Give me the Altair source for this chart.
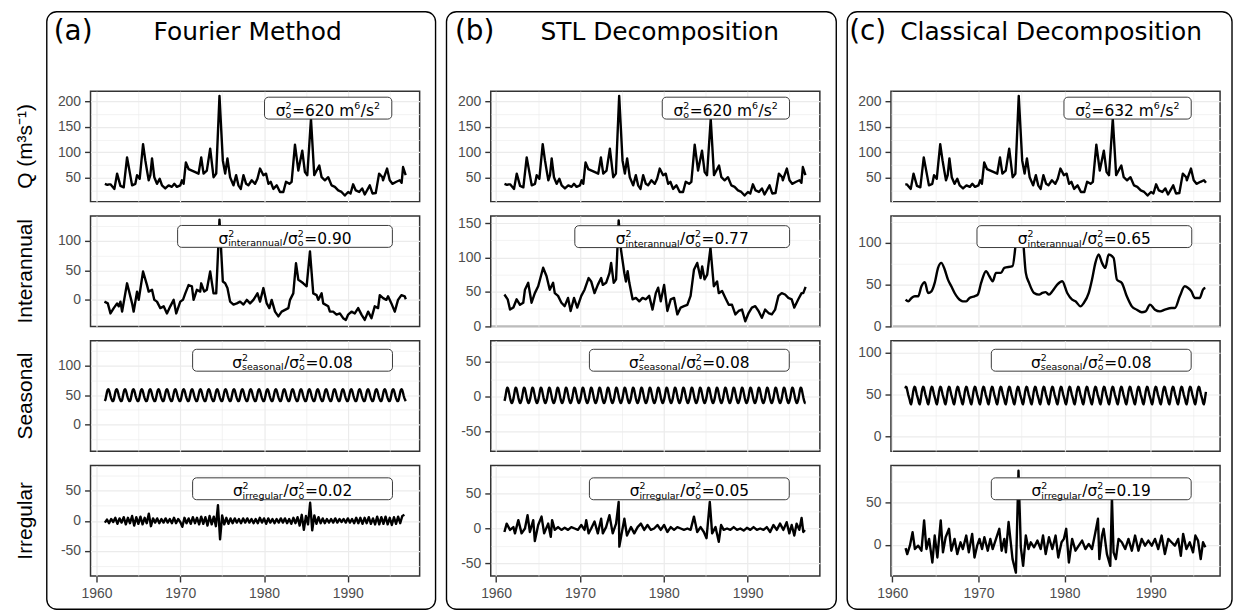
import altair as alt
import pandas as pd

# ---------------- data ----------------
# observed discharge Q (m3/s)
q_year = [1961.0, 1961.3, 1961.5, 1961.67, 1962.14, 1962.46, 1962.86, 1963.25, 1963.65, 1964.25,
          1964.64, 1964.84, 1965.16, 1965.56, 1965.83, 1966.03, 1966.23, 1966.43, 1966.63, 1966.9,
          1967.22, 1967.54, 1967.82, 1968.21, 1968.61, 1969.0, 1969.29, 1969.6, 1970.0, 1970.2,
          1970.4, 1970.67, 1970.99, 1971.39, 1971.79, 1972.18, 1972.5, 1972.78, 1973.17, 1973.57,
          1973.97, 1974.29, 1974.68, 1975.08, 1975.36, 1975.63, 1975.95, 1976.35, 1976.67, 1976.94,
          1977.22, 1977.54, 1977.86, 1978.13, 1978.53, 1978.93, 1979.21, 1979.52, 1979.92, 1980.24,
          1980.52, 1980.79, 1981.11, 1981.51, 1981.9, 1982.3, 1982.62, 1983.02, 1983.29, 1983.69,
          1984.09, 1984.56, 1984.88, 1985.16, 1985.6, 1985.99, 1986.59, 1986.87, 1987.26, 1987.66,
          1988.06, 1988.45, 1988.85, 1989.25, 1989.64, 1990.04, 1990.32, 1990.63, 1990.95, 1991.35,
          1991.71, 1992.02, 1992.62, 1992.94, 1993.33, 1993.73, 1994.13, 1994.2, 1994.68, 1995.0,
          1995.32, 1995.79, 1996.19, 1996.42, 1996.59, 1996.9]
q_val = [38, 36, 37, 37, 28, 58, 34, 31, 90, 35,
         38, 55, 48, 116, 84, 64, 45, 55, 88, 51,
         38, 48, 35, 29, 35, 32, 38, 32, 35, 45,
         38, 80, 67, 64, 61, 58, 90, 58, 64, 107,
         51, 58, 211, 84, 58, 88, 51, 35, 55, 35,
         28, 55, 38, 35, 45, 38, 48, 68, 55, 58,
         38, 42, 28, 35, 22, 22, 42, 38, 42, 115,
         64, 103, 61, 55, 166, 55, 74, 51, 45, 51,
         35, 32, 25, 22, 15, 22, 19, 37, 25, 22,
         29, 17, 35, 19, 20, 58, 51, 45, 68, 45,
         38, 42, 45, 40, 71, 55]

# interannual component, Fourier method
ia_year = [1960.95, 1961.35, 1961.67, 1962.06, 1962.46, 1962.66, 1962.86, 1963.06, 1963.65, 1964.25,
           1964.44, 1964.84, 1965.04, 1965.56, 1966.03, 1966.23, 1966.63, 1966.9, 1967.22, 1967.62,
           1968.02, 1968.41, 1968.81, 1969.21, 1969.52, 1970.0, 1970.32, 1970.6, 1970.99, 1971.39,
           1971.59, 1971.98, 1972.38, 1972.5, 1972.86, 1973.17, 1973.57, 1973.97, 1974.29, 1974.68,
           1975.08, 1975.36, 1975.63, 1975.95, 1976.35, 1976.75, 1977.14, 1977.54, 1977.94, 1978.33,
           1978.73, 1979.21, 1979.52, 1979.92, 1980.32, 1980.63, 1980.91, 1981.31, 1981.71, 1982.1,
           1982.5, 1982.9, 1983.1, 1983.49, 1983.81, 1984.09, 1984.4, 1984.68, 1985.08, 1985.48,
           1985.87, 1986.27, 1986.47, 1986.87, 1987.06, 1987.66, 1987.86, 1988.25, 1988.65, 1989.05,
           1989.44, 1989.76, 1990.04, 1990.44, 1990.83, 1991.23, 1991.63, 1992.02, 1992.42, 1992.82,
           1993.21, 1993.61, 1993.81, 1994.21, 1994.6, 1994.8, 1995.2, 1995.6, 1995.99, 1996.39,
           1996.79, 1996.92]
ia_val = [-3, -6, -23, -14, -6, -11, -3, -20, 28, -6,
          -20, 14, 0, 48, 25, 14, 17, 0, -3, -14,
          -11, -23, -11, 0, -23, -3, 0, 11, 25, 23,
          0, 17, 14, 28, 14, 17, 48, 11, 11, 136,
          31, 28, 20, -3, -8, -6, -3, -8, 0, -6,
          0, 11, -3, 20, -6, -14, 0, -20, -28, -20,
          -17, -14, 0, 11, 62, 34, 31, 28, 23, 82,
          11, 8, 0, 11, -6, -11, -20, -20, -25, -23,
          -31, -34, -25, -20, -23, -14, -25, -34, -20, -31,
          -11, -14, 8, 3, 0, 6, -6, -20, 0, 8,
          6, 1]

# interannual component (trend), STL
ib_year = [1960.99, 1961.38, 1961.66, 1962.06, 1962.45, 1962.85, 1963.24, 1963.44, 1963.83, 1964.23,
           1964.62, 1965.02, 1965.61, 1966.01, 1966.4, 1966.8, 1967.0, 1967.39, 1967.79, 1968.18,
           1968.58, 1968.89, 1969.29, 1969.68, 1970.16, 1970.55, 1971.03, 1971.34, 1971.74, 1972.13,
           1972.53, 1972.73, 1973.12, 1973.52, 1973.72, 1974.03, 1974.31, 1974.62, 1974.9, 1975.3,
           1975.49, 1975.69, 1975.89, 1976.28, 1976.68, 1977.08, 1977.47, 1977.87, 1978.26, 1978.66,
           1979.05, 1979.33, 1979.64, 1980.04, 1980.43, 1980.83, 1981.23, 1981.62, 1982.02, 1982.41,
           1982.81, 1983.2, 1983.6, 1983.99, 1984.39, 1984.58, 1984.86, 1985.18, 1985.57, 1985.97,
           1986.36, 1986.56, 1986.96, 1987.35, 1987.75, 1988.14, 1988.54, 1988.93, 1989.33, 1989.72,
           1990.12, 1990.51, 1990.91, 1991.3, 1991.7, 1992.09, 1992.49, 1992.89, 1993.28, 1993.68,
           1994.07, 1994.47, 1994.86, 1995.26, 1995.57, 1996.05, 1996.44, 1996.64, 1996.92]
ib_val = [46, 39, 24, 27, 39, 31, 34, 53, 63, 34,
          48, 58, 85, 73, 53, 63, 48, 44, 34, 29,
          41, 22, 41, 27, 44, 53, 70, 65, 48, 60,
          70, 60, 63, 77, 92, 63, 68, 154, 111, 77,
          65, 80, 63, 39, 41, 36, 41, 39, 44, 24,
          48, 56, 36, 60, 22, 39, 41, 17, 27, 29,
          31, 44, 82, 92, 70, 87, 68, 75, 114, 58,
          65, 48, 51, 41, 31, 31, 17, 22, 24, 7,
          19, 27, 29, 22, 12, 24, 19, 17, 24, 44,
          48, 46, 41, 39, 27, 39, 48, 48, 57]

# interannual component (trend), classical decomposition
ic_year = [1961.54, 1961.85, 1962.23, 1962.62, 1963.0, 1963.38, 1963.77, 1964.15, 1964.54, 1964.92,
           1965.31, 1965.69, 1966.08, 1966.46, 1966.85, 1967.23, 1967.62, 1968.19, 1968.58, 1968.96,
           1969.54, 1969.92, 1970.31, 1970.88, 1971.27, 1971.65, 1972.04, 1972.62, 1973.0, 1973.96,
           1974.35, 1974.65, 1975.12, 1975.5, 1975.88, 1976.46, 1977.04, 1977.42, 1977.81, 1978.19,
           1978.58, 1979.15, 1979.73, 1980.31, 1980.88, 1981.27, 1981.85, 1982.23, 1982.81, 1983.19,
           1983.58, 1983.96, 1984.35, 1984.73, 1985.12, 1985.69, 1986.08, 1986.65, 1987.23, 1987.81,
           1988.38, 1988.96, 1989.42, 1989.92, 1990.5, 1991.08, 1991.65, 1992.42, 1992.81, 1993.38,
           1993.96, 1994.35, 1994.73, 1995.12, 1995.69, 1996.08, 1996.35]
ic_val = [32, 30, 34, 36, 36, 48, 53, 40, 42, 52,
          70, 76, 68, 56, 48, 40, 34, 30, 30, 34,
          36, 38, 52, 66, 60, 54, 64, 64, 70, 72,
          100, 120, 108, 64, 52, 40, 38, 40, 41, 38,
          42, 50, 54, 40, 32, 30, 24, 28, 40, 56,
          76, 86, 76, 70, 86, 82, 56, 52, 36, 24,
          20, 17, 18, 26, 20, 18, 20, 22, 22, 36,
          48, 46, 42, 34, 34, 44, 46]

# seasonal cycles (one value per calendar month, Jan..Dec)
sa_month = [40, 43, 49, 55, 59, 60, 58, 54, 49, 45, 42, 40]
sb_month = [-6, -2, 4, 10, 13, 12, 8, 3, -2, -6, -9, -9]
sc_month = [44, 40, 38, 41, 47, 53, 57, 59, 58, 54, 50, 47]

# irregular component, Fourier method (quarterly readings from 1961.0)
ra_val = [-3, 2, -4, 3, -2, 5, -5, 4, -3, 6, -6, 5, -4, 8, -8, 6, -5, 7, -6, 5,
          -4, 12, -9, 4, -3, 4, -4, 3, -3, 4, -3, 3, -4, 5, -4, 3, -2, -10, 5, -4,
          4, -5, 6, -4, 5, -6, 7, -5, 6, -8, 8, -6, 7, -9, 26, -31, 9, -6, 5, -5,
          4, -4, 4, -3, 3, -4, 4, -3, 4, -3, 3, -4, 3, -4, 5, -3, 4, -5, 4, -3,
          3, -4, 3, -3, 4, -3, 4, -4, 3, -5, 5, -4, 6, -8, 10, -15, 8, -6, 30, -16,
          9, -5, 6, -4, 4, -4, 3, -3, 3, -3, 4, -3, 3, -2, 3, -3, 4, -3, 3, -4,
          5, -4, 5, -5, 5, -4, 6, -5, 4, -6, 7, -6, 6, -5, 7, -6, 5, -7, 6, -5,
          7, -4, 8, 10]

# irregular component (remainder), STL
rb_year = [1960.99, 1961.26, 1961.66, 1962.06, 1962.25, 1962.65, 1963.04, 1963.44, 1963.75, 1964.03,
           1964.43, 1964.62, 1965.02, 1965.42, 1965.73, 1966.21, 1966.52, 1966.68, 1967.0, 1967.39,
           1967.79, 1968.18, 1968.58, 1968.97, 1969.37, 1969.76, 1970.16, 1970.55, 1970.75, 1971.03,
           1971.34, 1971.74, 1972.13, 1972.53, 1972.73, 1973.12, 1973.52, 1973.91, 1974.31, 1974.62,
           1974.7, 1974.98, 1975.3, 1975.61, 1976.09, 1976.48, 1976.88, 1977.27, 1977.67, 1978.06,
           1978.46, 1978.85, 1979.25, 1979.64, 1980.04, 1980.43, 1980.83, 1981.23, 1981.62, 1982.02,
           1982.41, 1982.81, 1983.2, 1983.6, 1983.99, 1984.39, 1984.78, 1985.1, 1985.49, 1985.77,
           1986.17, 1986.56, 1986.84, 1987.15, 1987.55, 1987.94, 1988.34, 1988.74, 1989.13, 1989.53,
           1989.92, 1990.32, 1990.71, 1991.11, 1991.5, 1991.9, 1992.29, 1992.69, 1993.08, 1993.48,
           1993.87, 1994.27, 1994.66, 1994.98, 1995.26, 1995.57, 1995.85, 1996.17, 1996.44, 1996.64,
           1996.84]
rb_val = [-5, 7, -2, 2, -7, 12, -7, 0, 19, -5,
          12, -18, 5, 17, -7, 7, -12, 12, -2, 2,
          -2, 1, -2, 2, 0, -2, 5, -2, 12, -7,
          0, 10, -7, 14, -7, 2, 19, -7, 7, 38,
          -26, -7, 14, -10, 2, -7, 2, 7, -2, 5,
          -2, 0, 5, -2, 5, -5, 2, -2, 2, 0,
          -2, 0, -2, 17, -5, 2, -5, -14, 38, -7,
          2, -19, 5, -2, 0, -2, 2, -2, 0, -3,
          1, -2, 2, -2, 0, -2, 2, -5, 5, -2,
          7, -2, 9, -7, 5, -10, 7, -2, 15, -5,
          -2]

# irregular component, classical decomposition
rc_year = [1961.54, 1961.73, 1962.04, 1962.35, 1962.62, 1963.0, 1963.38, 1963.69, 1963.96, 1964.27,
           1964.65, 1964.92, 1965.23, 1965.62, 1965.88, 1966.19, 1966.58, 1966.85, 1967.23, 1967.54,
           1967.92, 1968.19, 1968.58, 1968.88, 1969.27, 1969.54, 1969.85, 1970.12, 1970.42, 1970.69,
           1971.08, 1971.38, 1971.65, 1972.04, 1972.42, 1972.69, 1973.0, 1973.19, 1973.5, 1973.96,
           1974.35, 1974.65, 1974.92, 1975.19, 1975.5, 1975.81, 1976.08, 1976.46, 1976.85, 1977.23,
           1977.5, 1977.81, 1978.19, 1978.58, 1978.96, 1979.27, 1979.65, 1979.92, 1980.19, 1980.5,
           1980.88, 1981.27, 1981.65, 1982.04, 1982.42, 1982.81, 1983.19, 1983.58, 1983.88, 1984.04,
           1984.35, 1984.54, 1984.92, 1985.31, 1985.5, 1985.69, 1985.96, 1986.27, 1986.65, 1987.04,
           1987.42, 1987.81, 1988.19, 1988.58, 1988.96, 1989.35, 1989.73, 1990.12, 1990.5, 1990.88,
           1991.27, 1991.65, 1992.04, 1992.42, 1992.81, 1993.19, 1993.5, 1993.77, 1994.15, 1994.54,
           1994.92, 1995.19, 1995.5, 1995.81, 1996.08, 1996.35]
rc_val = [-4, -11, -1, 15, -5, -1, -7, 29, -5, 7,
          -21, 11, -15, 29, -9, 9, 19, -7, 7, -11,
          3, -5, 11, -9, 13, -15, -1, 7, -5, 9,
          -7, 7, -5, 7, 19, -7, 7, -9, 27, -17,
          -33, 88, -3, -25, 11, -5, 3, -3, 5, -5,
          11, -11, 9, -5, 11, -15, 3, 7, 19, -21,
          7, -7, -1, 5, -5, 1, -5, 15, 31, -17,
          11, 19, -11, -25, 57, -9, -17, 7, 3, -5,
          7, -7, 11, -7, 7, -1, 5, -1, 7, -5,
          11, -11, 7, 3, -1, 7, -13, 13, -5, 3,
          -9, 11, 5, -17, 3, -3]

# annotation texts
col_letters = ["(a)", "(b)", "(c)"]
col_titles = ["Fourier Method", "STL Decomposition", "Classical Decomposition"]
row_titles = ["Q (m³s⁻¹)", "Interannual", "Seasonal", "Irregular"]
comp_names = [None, "interannual", "seasonal", "irregular"]
var_obs = ["620", "620", "632"]
ratios = {"a": ["0.90", "0.08", "0.02"], "b": ["0.77", "0.08", "0.05"], "c": ["0.65", "0.08", "0.19"]}
# label anchor (year, value) and box width (px)
lab_x = {"a": [1987.65, 1982.5, 1983.4, 1983.4], "b": [1987.41, 1982.2, 1983.05, 1983.05],
         "c": [1987.32, 1982.3, 1983.1, 1983.1]}
lab_y = {"a": [186.8, 107.5, 109.1, 53.4], "b": [186.8, 130.3, 52.2, 56.8],
         "c": [186.8, 107.4, 90.8, 66.5]}
box_w = [128, 216, 201, 201]

# ---------------- layout ----------------
W, H = 331, 111
COLS = ["a", "b", "c"]
XDOM = {"a": [1959.29, 1998.57], "b": [1959.36, 1998.62], "c": [1959.84, 1998.06]}
YDOM = {"a": [[3, 220], [-45, 142], [-45, 142], [-92, 92]],
        "b": [[3, 220], [-0.5, 160.3], [-78, 80], [-68, 90]],
        "c": [[3, 220], [0, 132], [-18, 114], [-37, 94]]}

GRID = "#EBEBEB"
TICK = "#333333"
LAB = "#4D4D4D"
AXFONT = "Liberation Sans"
TFONT = "DejaVu Sans"

DV = {"σ": 0.63, "=": 0.838, ".": 0.318, "/": 0.337, " ": 0.318, "m": 0.974, "s": 0.521,
      "o": 0.612, "i": 0.278, "n": 0.634, "t": 0.392, "e": 0.615, "r": 0.411, "a": 0.613,
      "u": 0.634, "l": 0.278, "g": 0.635}
for d in "0123456789":
    DV[d] = 0.636


def tw(s):
    return sum(DV.get(c, 0.6) for c in s)


MAIN, SMALL = 15.5, 9.5
BASE_DY, SUP_DY, SUB_DY = 7.5, -7.0, 2.5


def build_series():
    months = [1961 + i / 12 for i in range(432)]
    s = {}
    s[("a", 0)] = pd.DataFrame({"year": q_year, "value": q_val})
    s[("b", 0)] = pd.DataFrame({"year": q_year, "value": q_val})
    qc = pd.DataFrame({"year": q_year, "value": q_val})
    s[("c", 0)] = qc[(qc.year >= 1961.45) & (qc.year <= 1996.45)]
    s[("a", 1)] = pd.DataFrame({"year": ia_year, "value": ia_val})
    s[("b", 1)] = pd.DataFrame({"year": ib_year, "value": ib_val})
    s[("c", 1)] = pd.DataFrame({"year": ic_year, "value": ic_val})
    s[("a", 2)] = pd.DataFrame({"year": months, "value": [sa_month[i % 12] for i in range(432)]})
    s[("b", 2)] = pd.DataFrame({"year": months, "value": [sb_month[i % 12] for i in range(432)]})
    s[("c", 2)] = pd.DataFrame({"year": months[6:426], "value": [sc_month[i % 12] for i in range(6, 426)]})
    s[("a", 3)] = pd.DataFrame({"year": [1961 + i / 4 for i in range(len(ra_val))], "value": ra_val})
    s[("b", 3)] = pd.DataFrame({"year": rb_year, "value": rb_val})
    s[("c", 3)] = pd.DataFrame({"year": rc_year, "value": rc_val})
    return s


SERIES = build_series()


def label_segments(ci, col, r):
    if r == 0:
        return [("n", "σ"), ("st", "2", "o"), ("n", "=" + var_obs[ci] + " m"), ("sup", "6"),
                ("n", "/s"), ("sup", "2")]
    return [("n", "σ"), ("st", "2", comp_names[r]), ("n", "/σ"), ("st", "2", "o"),
            ("n", "=" + ratios[col][r - 1])]


def label_tables(ci, col, r):
    xd, yd = XDOM[col], YDOM[col][r]
    ppx = W / (xd[1] - xd[0])
    ppy = H / (yd[1] - yd[0])
    xc, yc = lab_x[col][r], lab_y[col][r]
    items, cur = [], 0.0
    for s in label_segments(ci, col, r):
        if s[0] == "n":
            items.append((s[1], MAIN, 0.0, cur))
            cur += tw(s[1]) * MAIN
        elif s[0] == "sup":
            items.append((s[1], SMALL, SUP_DY, cur))
            cur += tw(s[1]) * SMALL + 0.5
        else:
            items.append((s[1], SMALL, SUP_DY, cur))
            items.append((s[2], SMALL, SUB_DY, cur))
            cur += max(tw(s[1]), tw(s[2])) * SMALL + 0.5
    x0 = -cur / 2
    seg = pd.DataFrame([{"x": xc + (x0 + off) / ppx, "y": yc - (BASE_DY + dy) / ppy, "t": t, "s": sz}
                        for (t, sz, dy, off) in items])
    wb = box_w[r]
    box = pd.DataFrame([{"x1": xc - wb / 2 / ppx, "x2": xc + wb / 2 / ppx,
                         "y1": yc - 11 / ppy, "y2": yc + 11 / ppy}])
    return box, seg


def x_axis(show):
    vals = list(range(1960, 2000, 5))
    common = dict(values=vals, grid=True, gridColor=GRID,
                  gridWidth={"condition": {"test": "datum.value % 10 === 0", "value": 1.2}, "value": 0.6},
                  domain=False, title=None)
    if not show:
        return alt.Axis(labels=False, ticks=False, **common)
    return alt.Axis(labelExpr="datum.value % 10 === 0 ? '' + datum.value : ''",
                    labelFlush=False, labelFont=AXFONT, labelFontSize=14, labelColor=LAB,
                    labelPadding=5, ticks=True, tickSize=6, tickWidth=1.4, tickColor=TICK,
                    tickOpacity={"condition": {"test": "datum.value % 10 === 0", "value": 1}, "value": 0},
                    **common)


def y_axis(yd):
    lo = int(-(-yd[0] // 25)) * 25
    vals = list(range(lo, int(yd[1]) + 1, 25))
    return alt.Axis(values=vals, grid=True, gridColor=GRID,
                    gridWidth={"condition": {"test": "datum.value % 50 === 0", "value": 1.2}, "value": 0.6},
                    domain=False, title=None,
                    labelExpr="datum.value % 50 === 0 ? '' + datum.value : ''",
                    labelFont=AXFONT, labelFontSize=14, labelColor=LAB, labelPadding=4,
                    tickSize=6, tickWidth=1.4, tickColor=TICK,
                    tickOpacity={"condition": {"test": "datum.value % 50 === 0", "value": 1}, "value": 0})


ONE = pd.DataFrame({"k": [0]})


def deco_text(txt, x, y, size, font, align="left", angle=0, baseline="alphabetic"):
    return alt.Chart(ONE).mark_text(text=txt, align=align, baseline=baseline, fontSize=size,
                                    font=font, angle=angle, color="black").encode(
        x=alt.value(x), y=alt.value(y))


def frame(x1, x2, y1, y2):
    return alt.Chart(ONE).mark_rect(fillOpacity=0, stroke="black", strokeWidth=1.4,
                                    cornerRadius=10).encode(
        x=alt.value(x1), x2=alt.value(x2), y=alt.value(y1), y2=alt.value(y2))


FRAME_X = {"a": (-44, 347), "b": (-44.5, 347.5), "c": (-44, 343)}
LETTER_X = {"a": -37, "b": -36, "c": -42}
TITLE_X = {"a": 158, "b": 170, "c": 161}


def panel(ci, col, r):
    xd, yd = XDOM[col], YDOM[col][r]
    xs = alt.Scale(domain=xd, nice=False, zero=False)
    ys = alt.Scale(domain=yd, nice=False, zero=False)
    xax = x_axis(r == 3)
    yax = y_axis(yd)
    df = SERIES[(col, r)]
    interp = "monotone" if (col == "c" and r == 1) else "linear"
    line = alt.Chart(df).mark_line(color="black", strokeWidth=2.4, clip=True, interpolate=interp,
                                   strokeJoin="round").encode(
        x=alt.X("year:Q", scale=xs, axis=xax),
        y=alt.Y("value:Q", scale=ys, axis=yax))
    box_df, seg_df = label_tables(ci, col, r)
    box = alt.Chart(box_df).mark_rect(fill="white", stroke="#3A3A3A", strokeWidth=1,
                                      cornerRadius=4).encode(
        x=alt.X("x1:Q", scale=xs, axis=xax), x2="x2:Q",
        y=alt.Y("y1:Q", scale=ys, axis=yax), y2="y2:Q")
    txt = alt.Chart(seg_df).mark_text(align="left", baseline="alphabetic", font=TFONT,
                                      color="black").encode(
        x=alt.X("x:Q", scale=xs, axis=xax), y=alt.Y("y:Q", scale=ys, axis=yax),
        text="t:N", size=alt.Size("s:Q", scale=None))
    layers = [line, box, txt]
    if r == 0:
        fx1, fx2 = FRAME_X[col]
        layers.append(frame(fx1, fx2, -80, 521))
        layers.append(deco_text(col_letters[ci], LETTER_X[col], -52, 28, TFONT))
        layers.append(deco_text(col_titles[ci], TITLE_X[col], -52, 25, TFONT, align="center"))
        if col == "a":
            # invisible anchor fixing the top-left corner of the drawing
            layers.append(alt.Chart(ONE).mark_rect(opacity=0).encode(
                x=alt.value(-82), x2=alt.value(-81), y=alt.value(-79), y2=alt.value(-78)))
    if col == "a":
        layers.append(deco_text(row_titles[r], -64.5, H / 2, 21, AXFONT, align="center",
                                angle=270, baseline="middle"))
    return alt.layer(*layers).properties(width=W, height=H)


panels = [panel(ci, col, r) for r in range(4) for ci, col in enumerate(COLS)]

chart = alt.concat(*panels, columns=3, spacing={"row": 14.5, "column": 71.5},
                   bounds="flush", padding=0).configure(
    background="white",
    view=alt.ViewConfig(stroke="#333333", strokeWidth=1.5))

chart.save("out.html", embed_options={"renderer": "svg", "actions": False})
